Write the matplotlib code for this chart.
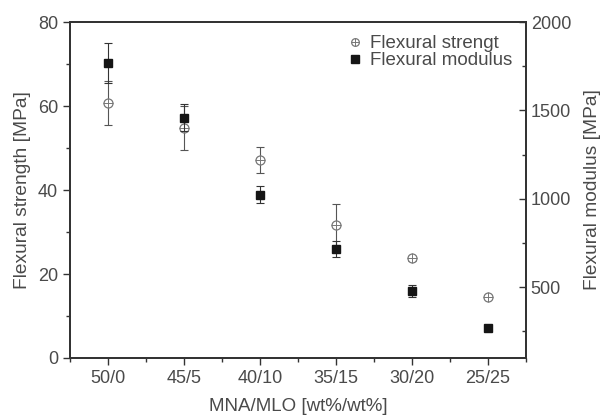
import numpy as np
import matplotlib.pyplot as plt
from matplotlib.legend_handler import HandlerTuple
from matplotlib.ticker import MultipleLocator

plt.rcParams['font.family'] = ['Liberation Sans', 'DejaVu Sans']

# data
ratios = ["50/0", "45/5", "40/10", "35/15", "30/20", "25/25"]
strength = [60.8, 54.8, 47.1, 31.7, 23.7, 14.5]
strength_err = [5.2, 5.3, 3.1, 5.0, 0.5, 0.3]
modulus = [1770, 1459, 1024, 716, 480, 270]
modulus_err = [112, 76, 47, 46, 35, 8]

txt = "#4a4a4a"
axc = "#333333"
x = np.arange(1, len(ratios) + 1)

fig = plt.figure(figsize=(6.03, 4.17), dpi=100)
ax = fig.add_axes([0.116, 0.1415, 0.756, 0.8055])
ax2 = ax.twinx()

# flexural strength (left axis): circle with cross
ax.errorbar(x, strength, yerr=strength_err, fmt="none", ecolor="#555555",
            elinewidth=0.8, capsize=3, capthick=0.8, zorder=2)
c1, = ax.plot(x, strength, "o", ms=6.5, mfc="white", mec="#777777", mew=0.9, zorder=3)
c2, = ax.plot(x, strength, "+", ms=6.5, mec="#777777", mew=0.7, zorder=4)

# flexural modulus (right axis): filled square
ax2.errorbar(x, modulus, yerr=modulus_err, fmt="none", ecolor="#333333",
             elinewidth=0.8, capsize=3, capthick=0.8, zorder=2)
sq, = ax2.plot(x, modulus, "s", ms=6, mfc="#151515", mec="#151515", zorder=3)

ax.set_xlim(0.5, 6.5)
ax.set_ylim(0, 80)
ax2.set_ylim(100, 2000)

ax.set_xticks(x)
ax.set_xticklabels(ratios)
ax.xaxis.set_minor_locator(MultipleLocator(0.5))
ax.yaxis.set_major_locator(MultipleLocator(20))
ax.yaxis.set_minor_locator(MultipleLocator(10))
ax2.set_yticks([500, 1000, 1500, 2000])
ax2.set_yticks([250, 750, 1250, 1750], minor=True)

ax.tick_params(axis="both", which="both", direction="out", colors=axc,
               labelcolor=txt, labelsize=13, width=1)
ax.tick_params(which="major", length=5)
ax.tick_params(which="minor", length=3)
ax2.tick_params(axis="y", which="both", direction="in", colors=axc,
                labelcolor=txt, labelsize=13, width=1)
ax2.tick_params(which="major", length=5)
ax2.tick_params(which="minor", length=3)

for a in (ax, ax2):
    for s in a.spines.values():
        s.set_color(axc)
        s.set_linewidth(1.3)

ax.set_xlabel("MNA/MLO [wt%/wt%]", fontsize=13.5, color=txt, labelpad=8)
ax.set_ylabel("Flexural strength [MPa]", fontsize=13.8, color=txt, labelpad=5)
ax2.set_ylabel("Flexural modulus [MPa]", fontsize=13.8, color=txt, labelpad=9)

leg = ax2.legend([(c1, c2), sq], ["Flexural strengt", "Flexural modulus"],
                 handler_map={tuple: HandlerTuple(ndivide=1, pad=0)},
                 loc="upper right", frameon=False, fontsize=13.5,
                 handlelength=0.8, handletextpad=0.4, labelspacing=0.0,
                 borderaxespad=0.3, markerscale=0.85)
for t in leg.get_texts():
    t.set_color(txt)

plt.savefig("out.png", dpi=100)
